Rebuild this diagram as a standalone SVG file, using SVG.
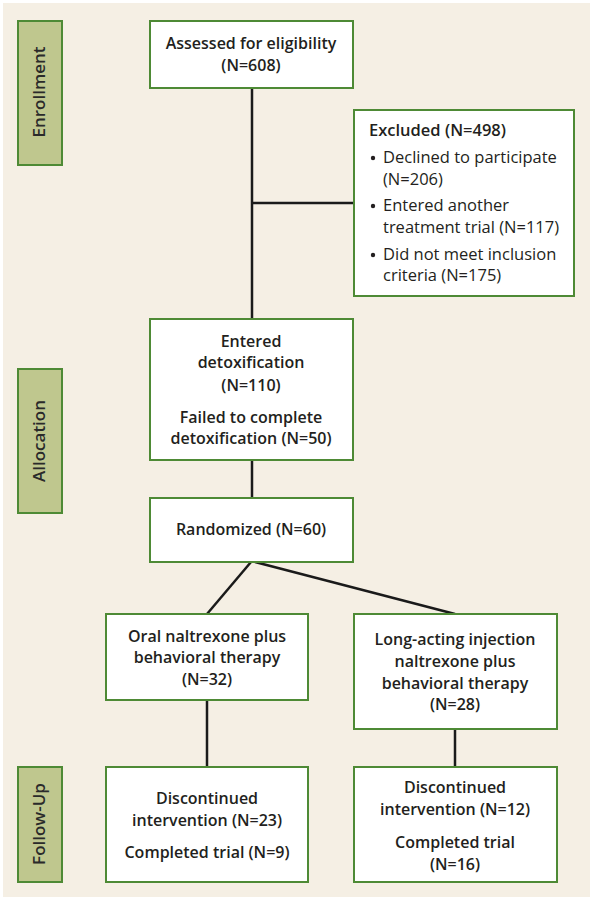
<svg xmlns="http://www.w3.org/2000/svg" width="593" height="900" viewBox="0 0 593 900">
<style>
.bg{fill:#F5EFE4}
.lab{fill:#BFC78E;stroke:#4E8A35;stroke-width:2}
.box{fill:#FFFFFF;stroke:#4E8A35;stroke-width:2}
.t{font-family:"Open Sans","Liberation Sans",sans-serif;font-size:16px;font-weight:600;fill:#231F20;text-anchor:middle}
.tl{font-family:"Open Sans","Liberation Sans",sans-serif;font-size:16.5px;font-weight:400;fill:#231F20}
.tb{font-family:"Open Sans","Liberation Sans",sans-serif;font-size:16.5px;font-weight:600;fill:#231F20}
.lt{font-family:"Open Sans","Liberation Sans",sans-serif;font-size:17px;font-weight:600;fill:#2A2A2A;text-anchor:middle}
.c{stroke:#1A1A1A;stroke-width:2.5;fill:none}
</style>
<rect class="bg" x="3" y="3" width="587" height="894"/>
<g id="label-enrollment"><rect class="lab" x="18" y="21" width="44" height="144"/><text class="lt" transform="translate(45,92) rotate(-90)">Enrollment</text></g>
<g id="label-allocation"><rect class="lab" x="18" y="369" width="44" height="144"/><text class="lt" transform="translate(45,441) rotate(-90)">Allocation</text></g>
<g id="label-followup"><rect class="lab" x="18" y="767" width="44" height="115"/><text class="lt" transform="translate(45,824) rotate(-90)">Follow-Up</text></g>
<g id="connectors">
<line class="c" x1="252" y1="88" x2="252" y2="319"/>
<line class="c" x1="252" y1="203" x2="354" y2="203"/>
<line class="c" x1="252" y1="460" x2="252" y2="498"/>
<line class="c" x1="251" y1="562" x2="207" y2="614"/>
<line class="c" x1="255" y1="562" x2="455" y2="614"/>
<line class="c" x1="207" y1="700" x2="207" y2="767"/>
<line class="c" x1="455" y1="729" x2="455" y2="767"/>
</g>
<g id="assessed"><rect class="box" x="150" y="21" width="203" height="67"/><text class="t" x="251" y="49">Assessed for eligibility</text><text class="t" x="251" y="71">(N=608)</text></g>
<g id="excluded"><rect class="box" x="354" y="110" width="220" height="186"/>
<text class="tb" x="369" y="136">Excluded (N=498)</text>
<circle cx="373" cy="158" r="2.2" fill="#231F20"/><text class="tl" x="383" y="163">Declined to participate</text>
<text class="tl" x="383" y="185">(N=206)</text>
<circle cx="373" cy="206" r="2.2" fill="#231F20"/><text class="tl" x="383" y="211">Entered another</text>
<text class="tl" x="383" y="233">treatment trial (N=117)</text>
<circle cx="373" cy="255" r="2.2" fill="#231F20"/><text class="tl" x="383" y="260">Did not meet inclusion</text>
<text class="tl" x="383" y="281">criteria (N=175)</text>
</g>
<g id="detox"><rect class="box" x="150" y="319" width="203" height="141"/>
<text class="t" x="251" y="347">Entered</text><text class="t" x="251" y="368">detoxification</text><text class="t" x="251" y="391">(N=110)</text>
<text class="t" x="251" y="423">Failed to complete</text><text class="t" x="251" y="444">detoxification (N=50)</text></g>
<g id="randomized"><rect class="box" x="150" y="498" width="203" height="64"/><text class="t" x="251" y="535">Randomized (N=60)</text></g>
<g id="oral"><rect class="box" x="106" y="614" width="202" height="86"/>
<text class="t" x="207" y="642">Oral naltrexone plus</text><text class="t" x="207" y="663">behavioral therapy</text><text class="t" x="207" y="685">(N=32)</text></g>
<g id="injection"><rect class="box" x="354" y="614" width="203" height="115"/>
<text class="t" x="455" y="645">Long-acting injection</text><text class="t" x="455" y="667">naltrexone plus</text><text class="t" x="455" y="689">behavioral therapy</text><text class="t" x="455" y="710">(N=28)</text></g>
<g id="oral-followup"><rect class="box" x="106" y="767" width="202" height="115"/>
<text class="t" x="207" y="804">Discontinued</text><text class="t" x="207" y="826">intervention (N=23)</text><text class="t" x="207" y="858">Completed trial (N=9)</text></g>
<g id="injection-followup"><rect class="box" x="354" y="767" width="203" height="115"/>
<text class="t" x="455" y="793">Discontinued</text><text class="t" x="455" y="815">intervention (N=12)</text><text class="t" x="455" y="848">Completed trial</text><text class="t" x="455" y="870">(N=16)</text></g>
</svg>
